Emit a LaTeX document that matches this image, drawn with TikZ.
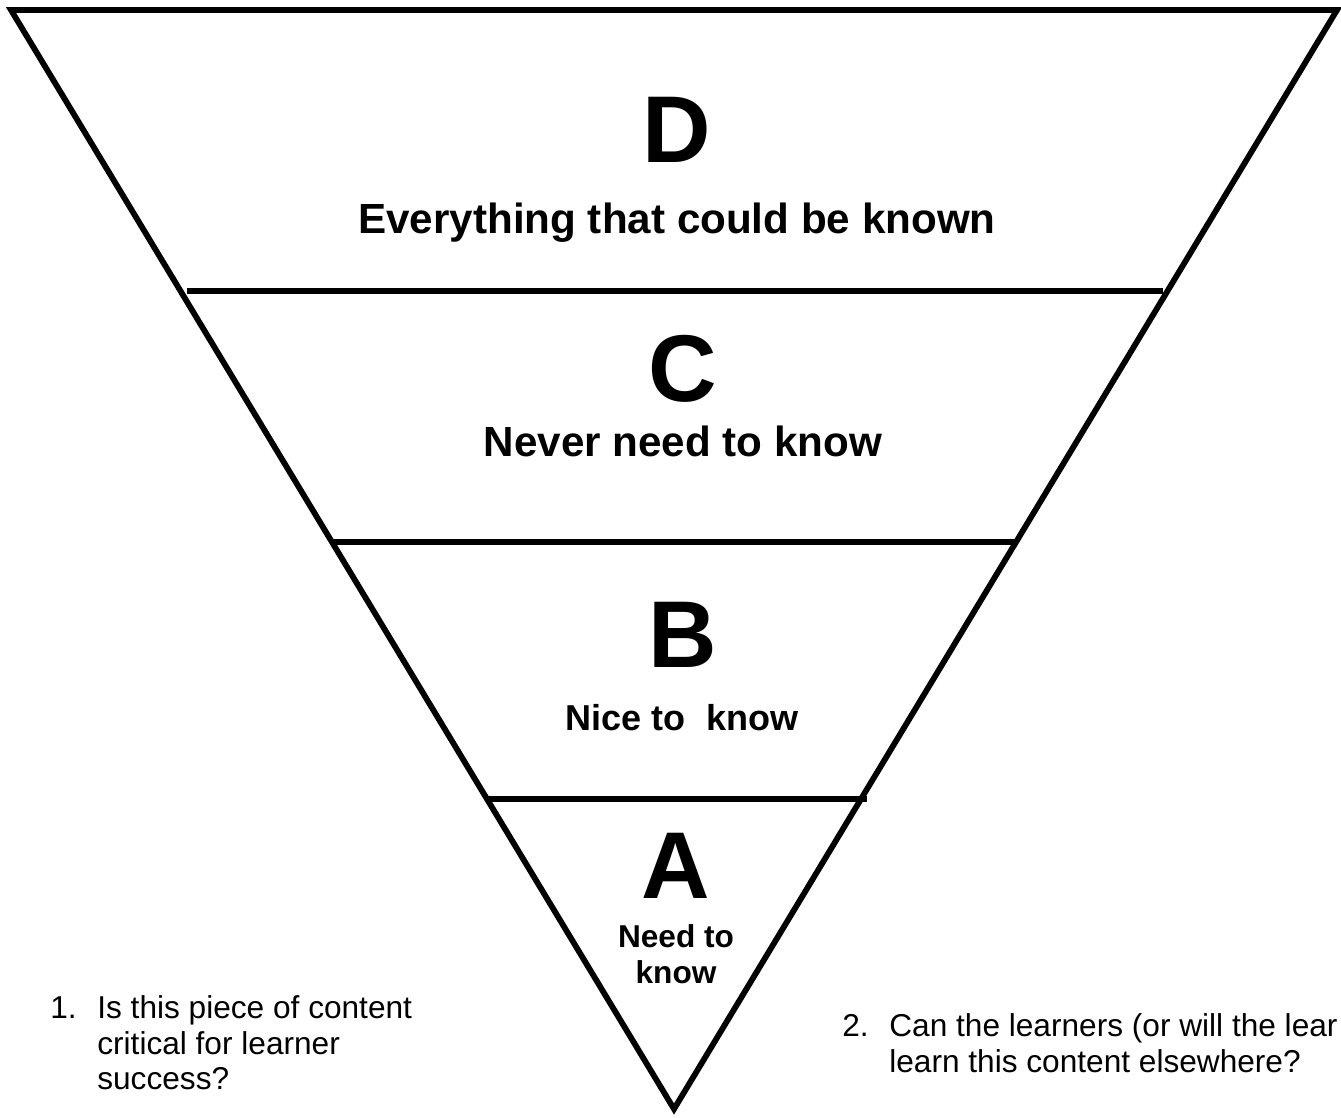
\documentclass[tikz,border=0pt]{standalone}
\usepackage{fontspec}
\setmainfont{Liberation Sans}
\tikzset{
  funnel/.style={line width=3.3pt},
  letter/.style={anchor=base, inner sep=0pt, font=\fontsize{54}{60}\selectfont\bfseries},
  caption/.style={inner sep=0pt, align=center, font=\fontsize{#1}{20.4}\selectfont\bfseries},
  question/.style={inner sep=0pt, align=left, font=\fontsize{18}{20.4}\selectfont}
}
\begin{document}
\begin{tikzpicture}[x=0.02cm, y=-0.02cm]
  \useasboundingbox (0,0) rectangle (1341,1117);
  % Inverted triangle
  \draw[funnel, line join=miter] (11,10) -- (1337,10) -- (674,1109) -- cycle;
  % Layer dividers
  \draw[funnel] (187,291) -- (1163,291);
  \draw[funnel] (334,542) -- (1016,542);
  \draw[funnel] (485,799) -- (867,799);
  % Layer letters
  \foreach \x/\y/\lab in {677/162/D, 683/401/C, 683/667/B, 676/898/A}
    \node[letter] (let\lab) at (\x,\y) {\lab};
  % Layer captions
  \node[caption=24, anchor=base] (capD) at (677,233) {Everything that could be known};
  \node[caption=24, anchor=base] (capC) at (683,456) {Never need to know};
  \node[caption=20.5, anchor=base] (capB) at (682,730) {Nice to\ \ know};
  \node[caption=18, anchor=north] (capA) at (676,924) {Need to\\know};
  % Questions
  \node[question, anchor=base west] (num1) at (50,1018) {1.};
  \node[question, anchor=north west] (item1) at (97,995) {Is this piece of content\\critical for learner\\success?};
  \node[question, anchor=base west] (num2) at (842,1036) {2.};
  \node[question, anchor=north west] (item2) at (889,1013) {Can the learners (or will the lear\\learn this content elsewhere?};
\end{tikzpicture}
\end{document}
